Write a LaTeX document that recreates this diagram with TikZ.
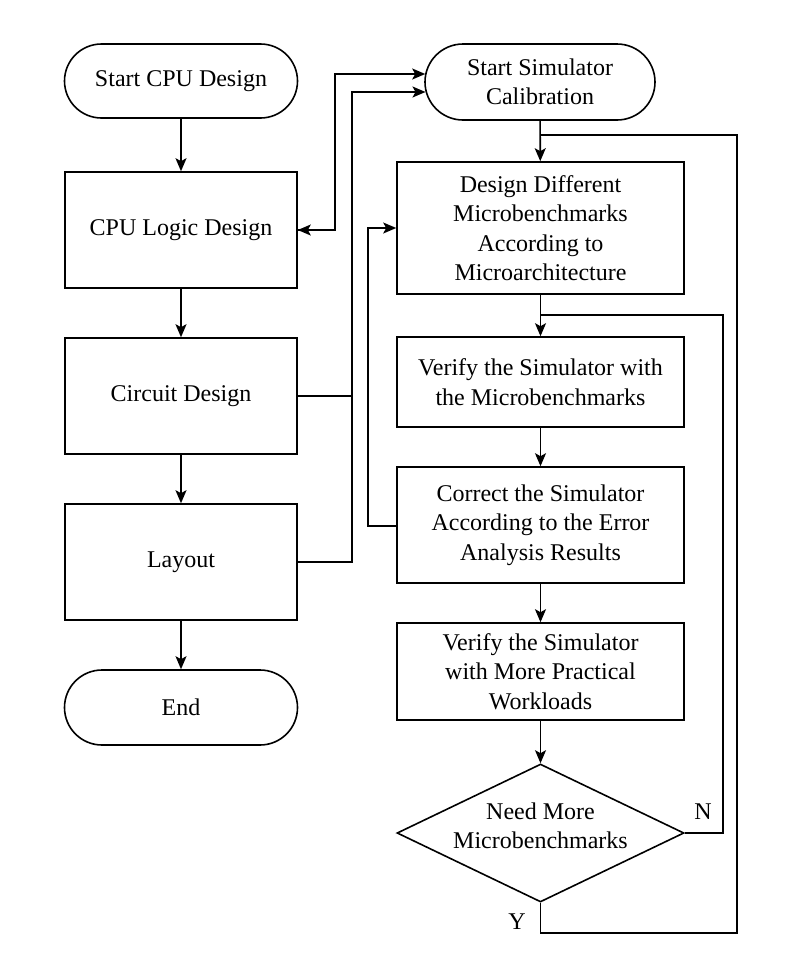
\documentclass[tikz,border=0pt]{standalone}
\usepackage{fontspec}
\setmainfont{Liberation Serif}
\usetikzlibrary{shapes.misc,shapes.geometric,arrows.meta,calc}
\tikzset{
  base/.style={draw, line width=1.6pt, align=center, inner sep=0pt,
    font=\fontsize{24}{29.5}\selectfont},
  term/.style={base, rounded rectangle, minimum width=233pt},
  proc/.style={base, rectangle, minimum width=232pt},
  rproc/.style={base, rectangle, minimum width=287pt},
  dec/.style={base, diamond, minimum width=287pt, minimum height=138pt},
  conn/.style={line width=1.6pt},
  arr/.style={conn, -{Stealth[length=13pt,width=11pt,inset=3pt]}},
  lbl/.style={font=\fontsize{24}{29.5}\selectfont, inner sep=0pt}
}
\begin{document}
\begin{tikzpicture}[x=1pt,y=-1pt]
\useasboundingbox (0,0) rectangle (788,959);
\fill[white] (0,0) rectangle (788,959);
% left column
\node[term, minimum height=74pt] (sc) at (181,81) {Start CPU Design};
\node[proc, minimum height=116pt] (cl) at (181,230) {CPU Logic Design};
\node[proc, minimum height=116pt] (cd) at (181,396) {Circuit Design};
\node[proc, minimum height=116pt] (lay) at (181,562) {Layout};
\node[term, minimum height=75pt] (en) at (181,707.5) {End};
% right column
\node[term, minimum width=230pt, minimum height=76pt] (ss) at (540,82) {Start Simulator\\Calibration};
\node[rproc, minimum height=132pt] (dd) at (540.5,228) {Design Different\\Microbenchmarks\\According to\\Microarchitecture};
\node[rproc, minimum height=90pt] (v1) at (540.5,382) {Verify the Simulator with\\the Microbenchmarks};
\node[rproc, minimum height=116pt] (cor) at (540.5,525) {Correct the Simulator\\According to the Error\\Analysis Results};
\node[rproc, minimum height=97pt] (v2) at (540.5,671.5) {Verify the Simulator\\with More Practical\\Workloads};
\node[dec] (dia) at (540.5,833) {};
\node[lbl, align=center] (diat) at (540.5,826) {Need More\\Microbenchmarks};
% labels
\node[lbl] (nl) at (703,812) {N};
\node[lbl] (yl) at (517,922) {Y};
% coordinates
\coordinate (a1) at (335,230);
\coordinate (a2) at (335,74);
\coordinate (b1) at (352,396);
\coordinate (b2) at (352,562);
\coordinate (b3) at (352,92);
\coordinate (c1) at (368,526);
\coordinate (c2) at (368,228);
\coordinate (n1) at (723,833);
\coordinate (n2) at (723,315);
\coordinate (n3) at (540.5,315);
\coordinate (y1) at (540.5,933);
\coordinate (y2) at (737,933);
\coordinate (y3) at (737,135);
\coordinate (y4) at (540.5,135);
% left column arrows
\draw[arr] (sc) -- (cl);
\draw[arr] (cl) -- (cd);
\draw[arr] (cd) -- (lay);
\draw[arr] (lay) -- (en);
% cross links
\draw[arr] (a1) -- (cl.east);
\draw[arr] (cl.east) -- (a1) -- (a2) -- ($(ss.west)+(1,-8)$);
\draw[conn] (cd.east) -- (b1);
\draw[arr] (lay.east) -- (b2) -- (b3) -- ($(ss.west)+(1.3,10)$);
\draw[arr] ($(cor.west)+(0,1)$) -- (c1) -- (c2) -- (dd.west);
% right column arrows
\draw[arr] (ss) -- (dd);
\draw[arr] (dd) -- (v1);
\draw[arr] (v1) -- (cor);
\draw[arr] (cor) -- (v2);
\draw[arr] (v2) -- (dia);
% loops
\draw[conn] (dia.east) -- (n1) -- (n2) -- (n3);
\draw[conn] (dia.south) -- (y1) -- (y2) -- (y3) -- (y4);
\end{tikzpicture}
\end{document}
